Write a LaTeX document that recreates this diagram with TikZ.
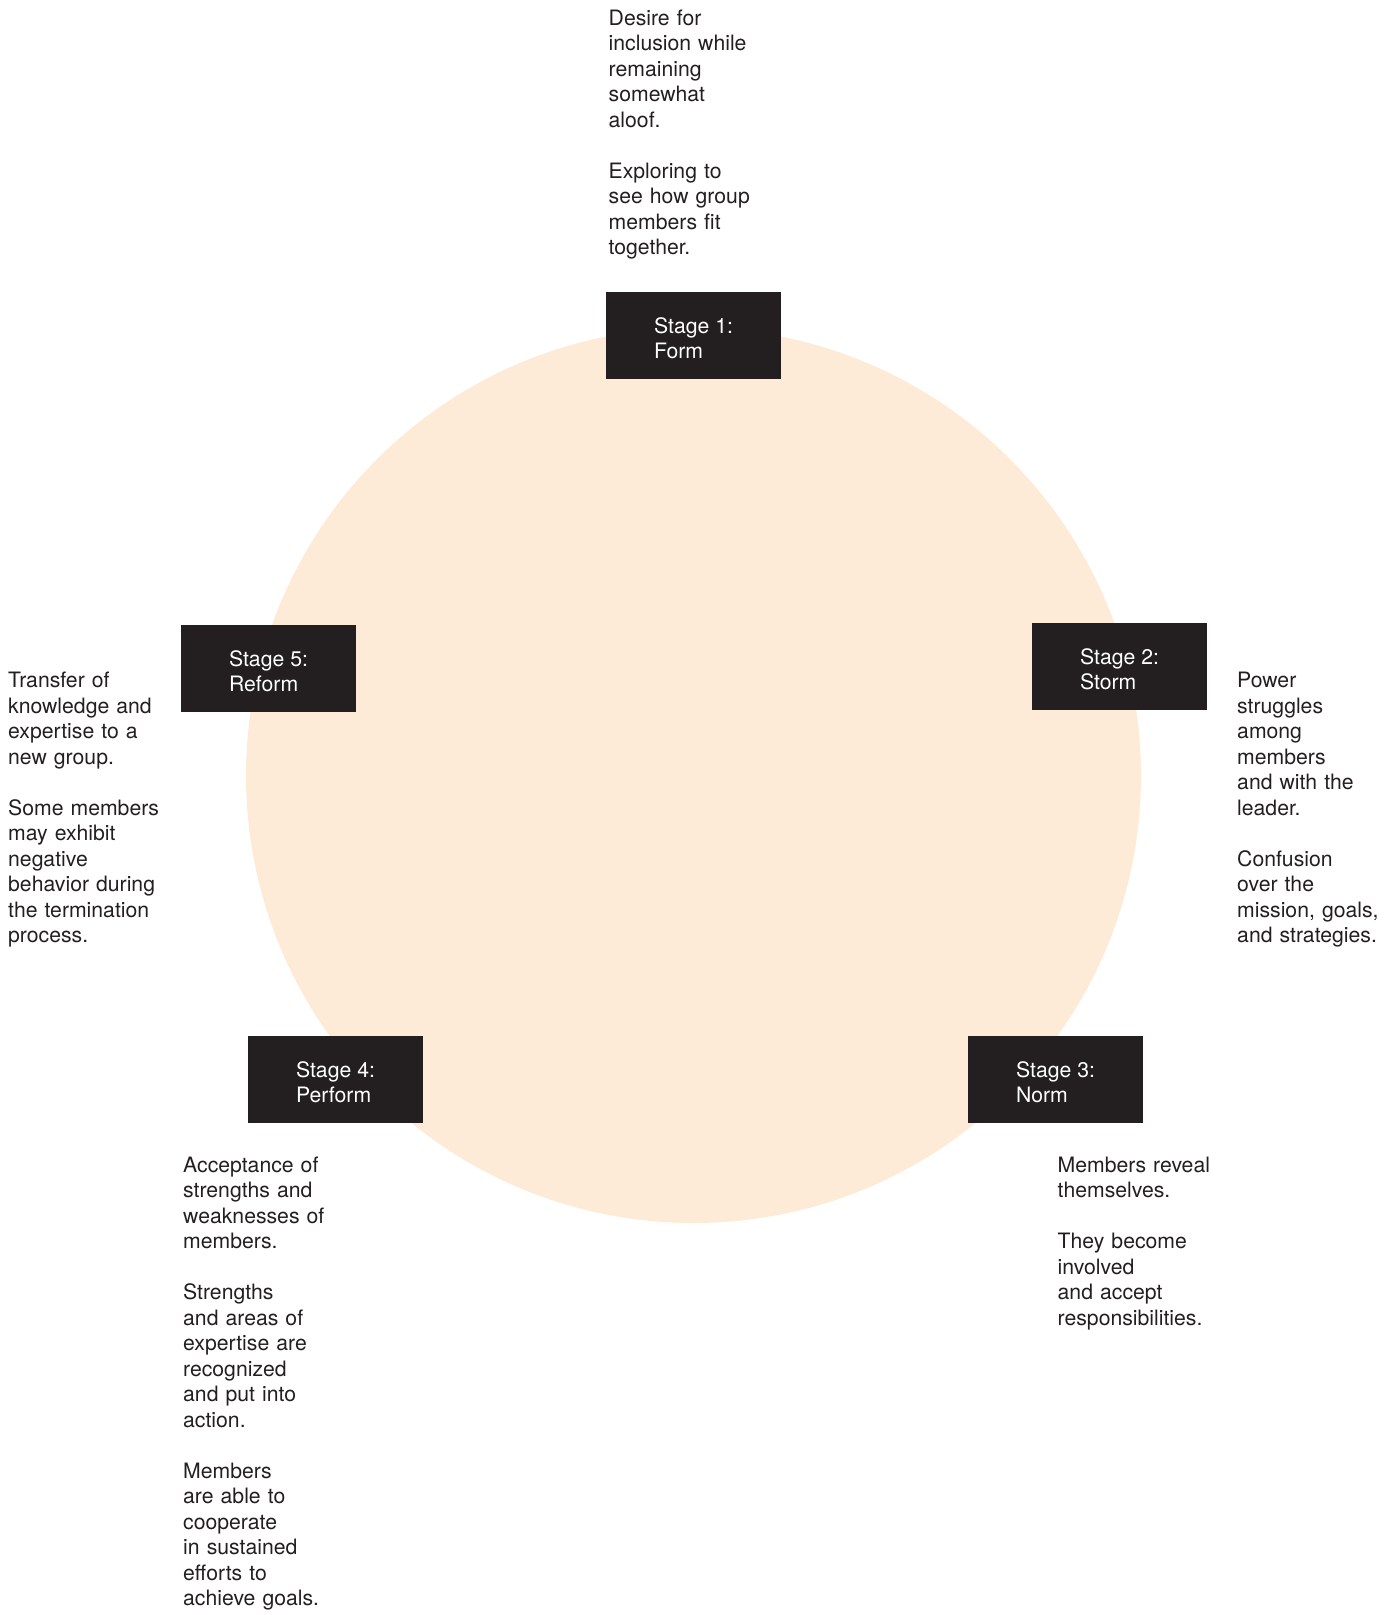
\documentclass[tikz,border=0pt]{standalone}
\usepackage{fontspec}
\setmainfont{TeX Gyre Heros}
\definecolor{boxdark}{HTML}{231F20}
\definecolor{peach}{HTML}{FDEBD7}
\definecolor{ink}{HTML}{231F20}
\newcommand{\tallrule}{\rule{0pt}{21.5pt}}
\begin{document}
\begin{tikzpicture}[x=1pt,y=-1pt,
  stagebox/.style={fill=boxdark,text=white,minimum width=175pt,minimum height=87pt,
    inner sep=0pt,align=left,font=\fontsize{21.2}{25.5}\selectfont},
  desc/.style={anchor=base west,inner sep=0pt,text width=320pt,align=left,text=ink,
    font=\fontsize{21.2}{25.5}\selectfont}]
\useasboundingbox (0,0) rectangle (1391,1615);
\fill[peach] (693.5,775.5) circle[radius=447.5pt];
\node[stagebox] (s1) at (693.5,335.5) {\tallrule Stage 1:\\Form};
\node[stagebox] (s2) at (1119.5,666.5) {\tallrule Stage 2:\\Storm};
\node[stagebox] (s3) at (1055.5,1079.5) {\tallrule Stage 3:\\Norm};
\node[stagebox] (s4) at (335.5,1079.5) {\tallrule Stage 4:\\Perform};
\node[stagebox] (s5) at (268.5,668.5) {\tallrule Stage 5:\\Reform};
\node[desc] (t1) at (608.5,25) {Desire for\\inclusion while\\remaining\\somewhat\\aloof.\\[25.5pt]Exploring to\\see how group\\members fit\\together.};
\node[desc] (t2) at (1237,687.5) {Power\\struggles\\among\\members\\and with the\\leader.\\[25.5pt]Confusion\\over the\\mission, goals,\\and strategies.};
\node[desc] (t3) at (1057.5,1172) {Members reveal\\themselves.\\[25.5pt]They become\\involved\\and accept\\responsibilities.};
\node[desc] (t4) at (183,1172) {Acceptance of\\strengths and\\weaknesses of\\members.\\[25.5pt]Strengths\\and areas of\\expertise are\\recognized\\and put into\\action.\\[25.5pt]Members\\are able to\\cooperate\\in sustained\\efforts to\\achieve goals.};
\node[desc] (t5) at (8,687.5) {Transfer of\\knowledge and\\expertise to a\\new group.\\[25.5pt]Some members\\may exhibit\\negative\\behavior during\\the termination\\process.};
\end{tikzpicture}
\end{document}
